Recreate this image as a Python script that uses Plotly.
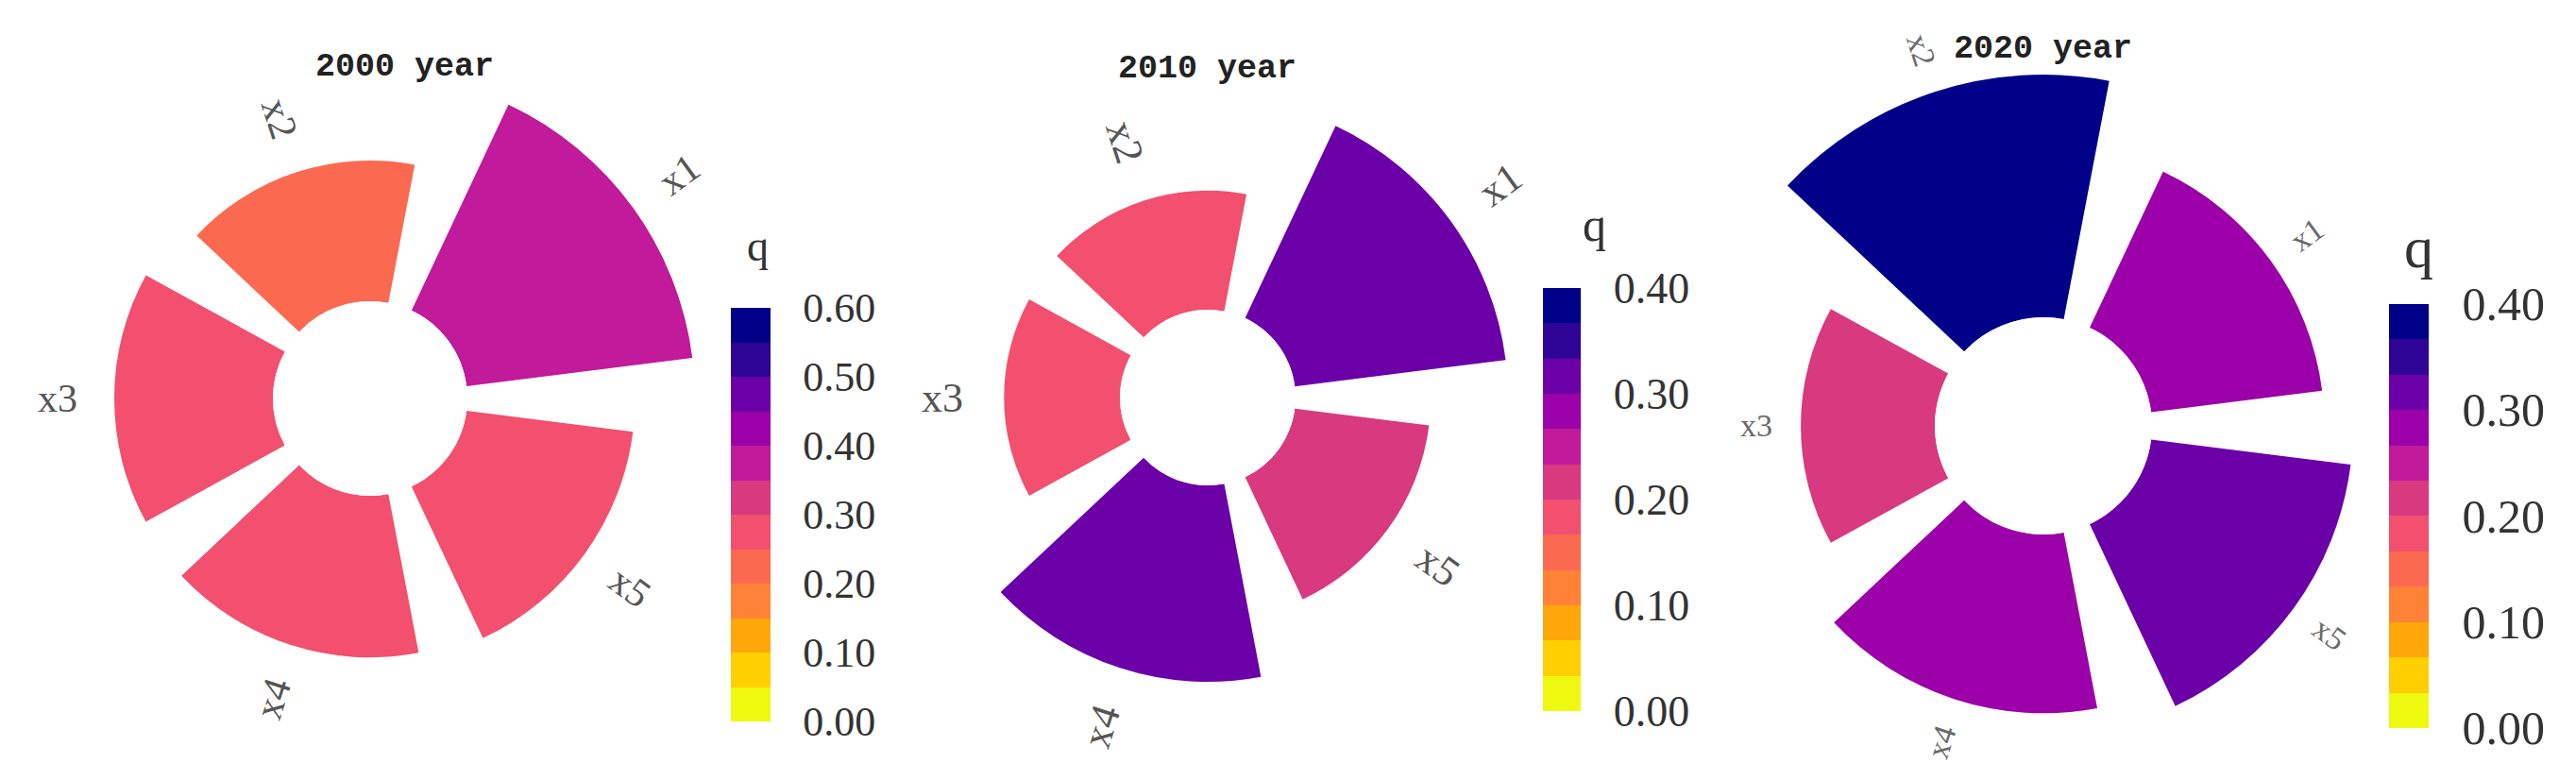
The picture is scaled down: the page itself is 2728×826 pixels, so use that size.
import math
import plotly.graph_objects as go

# ---------------- data ----------------
categories = ["x1", "x2", "x3", "x4", "x5"]
titles = ["2000 year", "2010 year", "2020 year"]
q_2000 = [0.38, 0.235, 0.265, 0.27, 0.28]
q_2010 = [0.33, 0.185, 0.18, 0.305, 0.21]
q_2020 = [0.27, 0.38, 0.21, 0.28, 0.315]
cbar_max = [0.6, 0.4, 0.4]
ticks_2000 = [0.0, 0.1, 0.2, 0.3, 0.4, 0.5, 0.6]
ticks_2010 = [0.0, 0.1, 0.2, 0.3, 0.4]
ticks_2020 = [0.0, 0.1, 0.2, 0.3, 0.4]
band_colors = ["#eef90f", "#ffcf00", "#ffa60a", "#ff8236", "#fc6951", "#f2506e",
               "#d8397f", "#c11a9b", "#9c00a9", "#6c00a8", "#2e0496", "#000088"]

series = [q_2000, q_2010, q_2020]
tick_sets = [ticks_2000, ticks_2010, ticks_2020]

# ---------------- layout geometry (pixels) ----------------
W, H = 2728, 826
center_px = [(384, 414), (1271, 413), (2156, 443)]
hole_px = [103, 93, 115]
px_per_unit = [634, 682, 676]
radial_max = [0.44, 0.45, 0.39]
label_gap_px = [60, 65, 47]
label_size = [42, 44, 34]
label_color = ["#555555", "#555555", "#6a6a6a"]
title_pos = [(420, 63), (1270, 65), (2155, 44)]
cbar_left = [766, 1626, 2522]
cbar_thick = [42, 40, 42]
cbar_len = [438, 448, 449]
cbar_mid = [537, 521, 538]
cbar_font = [44, 46, 50]
q_pos = [(794, 252), (1680, 230), (2553, 254)]
q_size = [46, 50, 62]

n = len(categories)
step = 360.0 / n
theta_deg = [i * step for i in range(n)]
rotation = step / 2

# discrete colorscale
nb = len(band_colors)
colorscale = []
for i, c in enumerate(band_colors):
    colorscale.append([i / nb, c])
    colorscale.append([(i + 1) / nb, c])

fig = go.Figure()
annotations = []
layout_extra = {}

for p in range(3):
    sfx = "" if p == 0 else str(p + 1)
    vals = series[p]
    cx, cy = center_px[p]
    R = hole_px[p] + px_per_unit[p] * radial_max[p]
    dom_x = [(cx - R) / W, (cx + R) / W]
    dom_y = [1 - (cy + R) / H, 1 - (cy - R) / H]

    fig.add_trace(go.Barpolar(
        r=vals, theta=theta_deg, width=[step * 0.8] * n,
        customdata=categories,
        hovertemplate="%{customdata}: %{r}<extra></extra>",
        marker=dict(color=vals, coloraxis="coloraxis" + sfx, line=dict(width=0)),
        subplot="polar" + sfx,
    ))

    layout_extra["polar" + sfx] = dict(
        domain=dict(x=dom_x, y=dom_y),
        hole=hole_px[p] / R,
        bgcolor="white",
        radialaxis=dict(range=[0, radial_max[p]], visible=False),
        angularaxis=dict(rotation=rotation, direction="counterclockwise", visible=False),
    )

    tv = tick_sets[p]
    layout_extra["coloraxis" + sfx] = dict(
        colorscale=colorscale, cmin=0, cmax=cbar_max[p],
        colorbar=dict(
            x=cbar_left[p] / W, xanchor="left", xpad=0,
            y=1 - cbar_mid[p] / H, yanchor="middle", ypad=0,
            thickness=cbar_thick[p], lenmode="pixels", len=cbar_len[p],
            outlinewidth=0, tickvals=tv, ticktext=["%.2f" % t for t in tv],
            ticks="outside", ticklen=26, tickcolor="rgba(0,0,0,0)",
            tickfont=dict(family="Liberation Serif", size=cbar_font[p], color="#333333"),
        ),
    )

    # category labels placed just beyond each bar end, rotated radially
    for i, cat in enumerate(categories):
        ang = rotation + theta_deg[i]
        rpx = hole_px[p] + px_per_unit[p] * vals[i] + label_gap_px[p]
        a = math.radians(ang)
        lx = cx + rpx * math.cos(a)
        ly = cy - rpx * math.sin(a)
        rot = ang if math.cos(a) >= -1e-9 else ang - 180
        if rot > 180:
            rot -= 360
        annotations.append(dict(
            x=lx / W, y=1 - ly / H, xref="paper", yref="paper",
            text=cat, showarrow=False, textangle=-rot,
            xanchor="center", yanchor="middle",
            font=dict(family="Liberation Serif", size=label_size[p], color=label_color[p]),
        ))

    tx, ty = title_pos[p]
    annotations.append(dict(
        x=tx / W, y=1 - ty / H, xref="paper", yref="paper",
        text="<b>" + titles[p] + "</b>", showarrow=False,
        xanchor="center", yanchor="middle",
        font=dict(family="Liberation Mono", size=35, color="#222222"),
    ))
    qx, qy = q_pos[p]
    annotations.append(dict(
        x=qx / W, y=1 - qy / H, xref="paper", yref="paper",
        text="q", showarrow=False, xanchor="center", yanchor="middle",
        font=dict(family="Liberation Serif", size=q_size[p], color="#333333"),
    ))

fig.update_layout(
    width=W, height=H, autosize=False,
    margin=dict(l=0, r=0, t=0, b=0),
    paper_bgcolor="white", plot_bgcolor="white",
    showlegend=False, annotations=annotations,
    **layout_extra,
)

fig.write_html("out.html")
